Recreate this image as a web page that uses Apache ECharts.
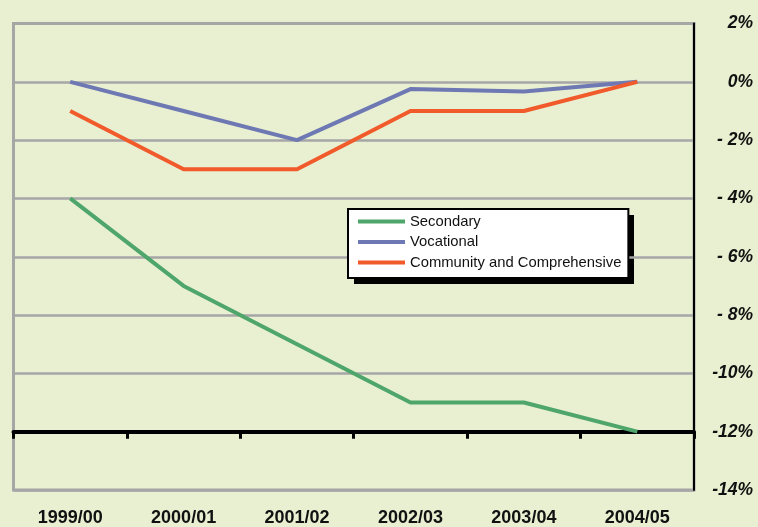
<!DOCTYPE html>
<html>
<head>
<meta charset="utf-8">
<script src="https://cdn.jsdelivr.net/npm/echarts@6/dist/echarts.min.js"></script>
<style>
html,body{margin:0;padding:0;background:#e9efd1;}
#c{width:758px;height:527px;}
</style>
</head>
<body>
<div id="c"></div>
<script>
const categories = ['1999/00', '2000/01', '2001/02', '2002/03', '2003/04', '2004/05'];
const secondary = [-4, -7, -9, -11, -11, -12];
const vocational = [0, -1, -2, -0.25, -0.33, 0];
const community = [-1, -3, -3, -1, -1, 0];
const seriesNames = ['Secondary', 'Vocational', 'Community and Comprehensive'];
const yTickLabels = {'2': '2%', '0': '0%', '-2': '- 2%', '-4': '- 4%', '-6': '- 6%', '-8': '- 8%', '-10': '-10%', '-12': '-12%', '-14': '-14%'};

const chart = echarts.init(document.getElementById('c'));
const font = '"Liberation Sans", Arial, Helvetica, sans-serif';
chart.setOption({
  backgroundColor: '#e9efd1',
  animation: false,
  grid: {
    left: 13.5, top: 23.5, right: 64, bottom: 37,
    show: true, borderColor: '#a6a6a6', borderWidth: 3, backgroundColor: 'transparent'
  },
  graphic: [
    { type: 'rect', left: 354, top: 215, shape: { width: 280, height: 69 }, style: { fill: '#000' }, z: 0 }
  ],
  legend: {
    orient: 'vertical',
    left: 348, top: 209,
    data: seriesNames,
    icon: 'rect',
    itemWidth: 47, itemHeight: 4,
    itemGap: 5.5,
    padding: [5, 7, 8, 10],
    backgroundColor: '#ffffff',
    borderColor: '#000000',
    borderWidth: 2,
    z: 10,
    textStyle: { fontFamily: font, fontSize: 14.8, color: '#111' }
  },
  xAxis: [
    {
      type: 'category', data: categories, boundaryGap: true,
      position: 'bottom', offset: -58.3,
      axisLine: { show: true, onZero: false, lineStyle: { color: '#000', width: 4 } },
      axisTick: { show: true, length: 7, lineStyle: { color: '#000', width: 3 } },
      axisLabel: { show: false },
      splitLine: { show: false }
    },
    {
      type: 'category', data: categories, boundaryGap: true,
      position: 'bottom', offset: 0,
      axisLine: { show: false, onZero: false }, axisTick: { show: false },
      axisLabel: { show: true, margin: 19, fontFamily: font, fontSize: 18, fontWeight: 'bold', color: '#111' },
      splitLine: { show: false }
    }
  ],
  yAxis: {
    type: 'value', position: 'right', min: -14, max: 2, interval: 2,
    axisLine: { show: true, lineStyle: { color: '#000', width: 2 } },
    axisTick: { show: false },
    splitLine: { show: true, lineStyle: { color: '#a6a6a6', width: 2.5 } },
    axisLabel: {
      margin: 59, align: 'right',
      fontFamily: font, fontSize: 17.5, fontWeight: 'bold', fontStyle: 'italic', color: '#111',
      formatter: v => yTickLabels[String(v)] !== undefined ? yTickLabels[String(v)] : v + '%'
    }
  },
  series: [
    { name: seriesNames[0], type: 'line', data: secondary, symbol: 'none', xAxisIndex: 0,
      itemStyle: { color: '#4fa66b' }, lineStyle: { color: '#4fa66b', width: 4 } },
    { name: seriesNames[1], type: 'line', data: vocational, symbol: 'none', xAxisIndex: 0,
      itemStyle: { color: '#6e79b4' }, lineStyle: { color: '#6e79b4', width: 4 } },
    { name: seriesNames[2], type: 'line', data: community, symbol: 'none', xAxisIndex: 0,
      itemStyle: { color: '#f15a2b' }, lineStyle: { color: '#f15a2b', width: 4 } }
  ]
});
</script>
</body>
</html>
